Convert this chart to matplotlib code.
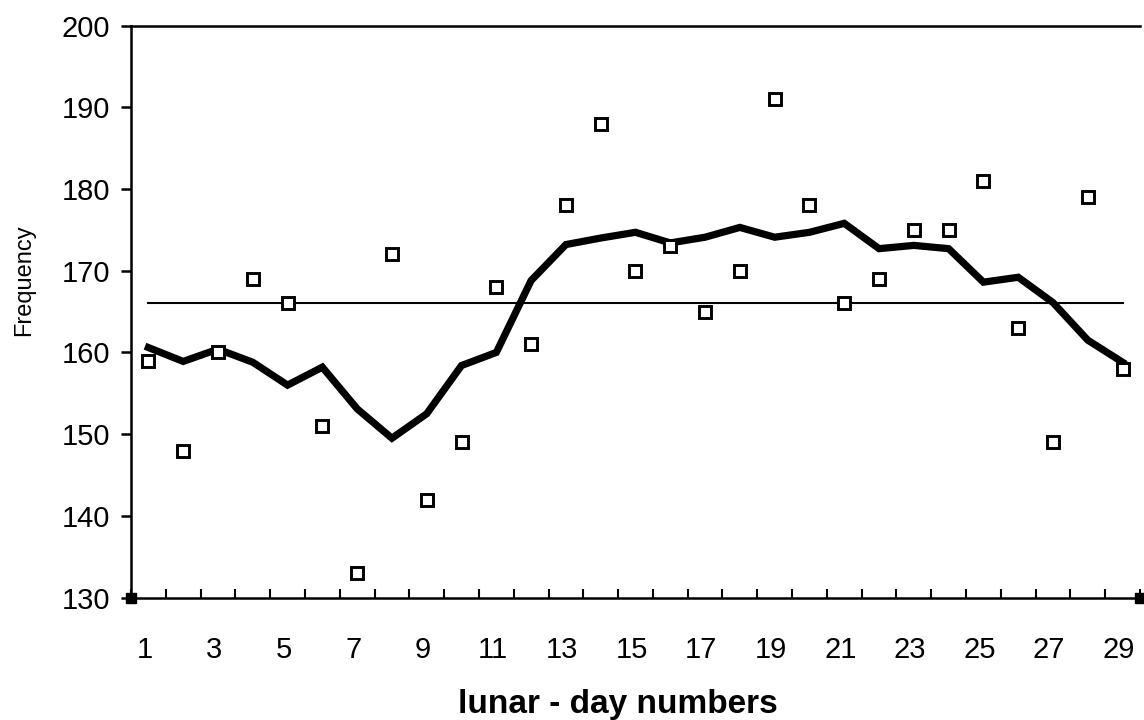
import numpy as np
import matplotlib
matplotlib.use("Agg")
import matplotlib.pyplot as plt
import matplotlib.transforms as mtransforms

plt.rcParams['font.family'] = ['Liberation Sans', 'DejaVu Sans']

# lunar day numbers and observed frequencies
days = np.arange(1, 30)
freq = [159, 148, 160, 169, 166, 151, 133, 172, 142, 149,
        168, 161, 178, 188, 170, 173, 165, 170, 191, 178,
        166, 169, 175, 175, 181, 163, 149, 179, 158]
# smoothed curve
smooth = [160.6, 158.9, 160.4, 158.8, 156.0, 158.2, 153.1, 149.5, 152.5, 158.4,
          160.0, 168.8, 173.2, 174.0, 174.7, 173.4, 174.1, 175.3, 174.1, 174.7,
          175.8, 172.7, 173.1, 172.7, 168.6, 169.2, 166.1, 161.5, 158.8]
mean_level = 166

fig = plt.figure(figsize=(11.44, 7.2), dpi=100)
ax = fig.add_axes([0.1145, 0.170, 0.882, 0.7945])

ax.plot(days, smooth, color='black', lw=5.2, solid_joinstyle='miter', zorder=3)
ax.plot([days[0], days[-1]], [mean_level, mean_level], color='black', lw=1.5, zorder=2)
ax.plot(days, freq, ls='none', marker='s', ms=8.5, mfc='white', mec='black', mew=2.1, zorder=4)

ax.set_xlim(0.5, 29.5)
ax.set_ylim(130, 200)

ax.set_xticks(np.arange(1, 30, 2))
ax.set_xticks(np.arange(0.5, 29.6, 1), minor=True)
ax.tick_params(axis='x', which='major', length=0, pad=28, labelsize=21)
ax.tick_params(axis='x', which='minor', direction='in', length=6.5, width=1.5)
ax.set_yticks(np.arange(130, 201, 10))
ax.tick_params(axis='y', direction='out', length=7, width=1.8, pad=8, labelsize=21)

# category labels sit a little left of the category centres
shift = mtransforms.ScaledTranslation(-4 / 100, 0, fig.dpi_scale_trans)
for lbl in ax.get_xticklabels():
    lbl.set_transform(lbl.get_transform() + shift)

for s in ['left', 'bottom', 'top']:
    ax.spines[s].set_linewidth(1.8)
ax.spines['right'].set_visible(False)

# small end markers on the category axis
ax.plot(ax.get_xlim(), [130, 130], ls='none', marker='s', ms=7, color='black', clip_on=False, zorder=5)

ax.set_ylabel('Frequency', fontsize=17)
ax.yaxis.set_label_coords(-0.095, 0.555)
ax.set_xlabel('lunar - day numbers', fontsize=24, fontweight='bold')
ax.xaxis.set_label_coords(0.483, -0.160)

fig.savefig('out.png', dpi=100)
